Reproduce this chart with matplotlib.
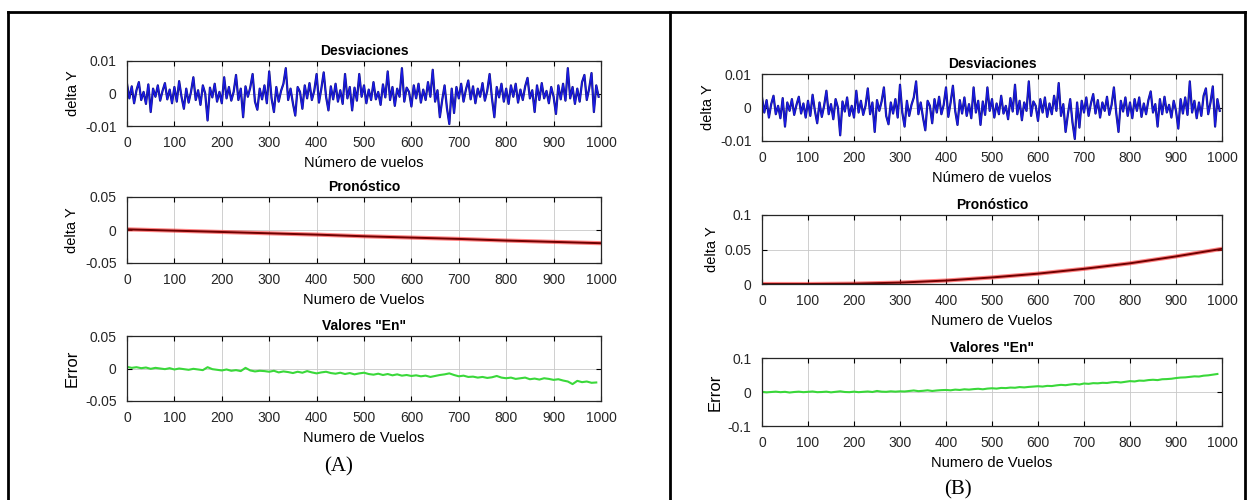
import numpy as np
import matplotlib
matplotlib.use("Agg")
import matplotlib.pyplot as plt
from matplotlib.lines import Line2D

plt.rcParams['font.family'] = ['Liberation Sans', 'DejaVu Sans']
plt.rcParams['axes.unicode_minus'] = False

# desviaciones (x1e-3), one value every 5 flights
desv = np.array([
    3.0, -1.5, 2.2, -3.0, 1.0, 3.5, -2.0, 0.5, -3.2, 2.8, -5.7, 1.5, -1.0, 2.5, -2.2, 0.8, 3.2, -1.8, 1.2, -3.0,
    2.0, -2.5, 3.8, -1.0, -4.7, 1.5, -2.8, 0.5, 5.0, -2.0, 1.0, -3.5, 2.5, 0.0, -8.3, 1.8, -1.2, 3.0, -2.5, 0.5,
    -3.0, 5.0, -1.5, 2.0, -2.2, 0.5, 5.7, -2.0, 1.5, -7.3, 2.2, -1.0, 1.8, 6.0, -2.5, -5.0, 1.5, -1.8, 2.5, -3.0,
    6.8, -1.5, -5.7, 2.0, -2.5, 0.8, 3.0, 7.8, -2.0, 1.5, -3.0, -6.8, 2.0, 0.5, -4.7, 2.5, -1.5, 3.2, -2.0, 0.8,
    6.0, -2.8, 1.5, 6.5, -1.0, -5.2, 2.2, -1.8, 3.0, -2.5, 1.0, -3.2, 6.0, -1.5, 2.0, -5.2, 1.8, -2.2, 6.0, -1.0,
    2.5, -3.0, 1.2, -2.0, 3.5, -1.8, 0.5, -3.5, 2.8, -1.2, 6.8, -2.0, 2.0, -3.8, 1.5, -1.0, 7.8, -2.5, 1.8, 0.5,
    -4.0, 2.5, -1.5, 3.0, -2.8, 1.2, -2.0, 3.5, -1.0, 7.3, -2.5, 1.0, -7.3, -2.0, 2.5, -4.5, -9.4, 1.5, -6.0, 2.0,
    -1.5, 3.0, -2.5, 1.2, 4.0, -1.8, 2.2, -3.0, 1.5, -1.0, 3.2, -2.2, 0.8, 6.0, -1.5, -7.3, 2.0, -1.2, 3.0, -2.5,
    1.5, -3.2, 2.5, -1.0, 3.0, -2.8, 1.2, -2.0, 2.2, 4.8, -1.5, 1.0, -5.7, 2.5, -2.0, 3.2, -1.5, 0.8, -3.0, 2.0,
    -1.0, -6.3, 2.5, -1.8, 3.0, -2.2, 7.8, -1.5, 2.0, -3.2, 1.5, -2.5, 3.5, 5.7, -2.0, 1.5, 6.3, -5.7, 2.5, -1.0,
]) * 1e-3
x_desv = np.arange(len(desv)) * 5

# pronostico, read every 100 flights
x_pron = [0, 100, 200, 300, 400, 500, 600, 700, 800, 900, 1000]
pron_a = [0.001, -0.001, -0.003, -0.005, -0.007, -0.0095, -0.0115, -0.0135, -0.016, -0.018, -0.020]
pron_b = [0.0, 0.0, 0.0005, 0.002, 0.005, 0.0095, 0.015, 0.022, 0.030, 0.040, 0.051]

# valores "En" (x1e-3), one value every 10 flights
en_a = np.array([
    2.5, 1.0, 2.0, 0.5, 1.5, -0.5, 1.0, 0.0, -1.0, 0.5,
    -1.5, 0.0, -1.0, -2.0, -0.5, -1.5, -2.5, 2.0, -1.0, -2.0,
    -3.0, -1.5, -3.5, -2.5, -4.0, 1.0, -3.0, -4.5, -3.5, -4.0,
    -5.0, -3.5, -6.0, -4.5, -5.5, -7.0, -5.0, -6.5, -4.0, -6.0,
    -7.5, -6.0, -5.0, -7.0, -8.0, -6.5, -8.5, -7.0, -9.0, -7.5,
    -6.5, -8.5, -9.5, -8.0, -10.0, -8.5, -10.5, -9.0, -11.0, -10.0,
    -11.5, -10.5, -12.0, -11.0, -13.0, -11.5, -10.0, -9.0, -7.5, -10.0,
    -12.0, -11.0, -13.0, -12.5, -14.0, -13.0, -14.5, -13.5, -11.5, -14.0,
    -15.0, -14.0, -16.0, -15.0, -14.0, -16.5, -15.5, -17.0, -15.0, -16.0,
    -17.5, -16.5, -18.5, -20.0, -24.0, -19.0, -21.0, -20.0, -22.0, -21.5,
]) * 1e-3
en_b = np.array([
    0.5, -1.0, 0.0, 1.0, -0.5, 0.5, -1.5, 0.0, 1.0, -0.5,
    0.5, 1.5, -0.5, 0.0, 1.0, -1.0, 0.5, 2.0, 0.0, -0.5,
    1.0, -0.5, 0.5, 1.5, 0.0, 3.0, 1.0, 0.5, 2.0, 1.0,
    2.0, 1.5, 3.0, 4.5, 2.5, 3.5, 5.0, 3.0, 4.5, 5.5,
    6.0, 5.0, 7.0, 6.0, 8.0, 7.0, 8.5, 9.5, 8.0, 10.0,
    11.0, 10.0, 12.0, 11.5, 13.0, 12.5, 14.5, 13.5, 15.0, 16.0,
    17.0, 16.0, 18.0, 17.5, 19.5, 21.0, 20.0, 22.0, 23.5, 22.0,
    25.0, 24.0, 26.0, 25.5, 27.0, 26.5, 28.5, 29.5, 28.0, 30.0,
    32.0, 31.0, 33.5, 33.0, 35.0, 36.0, 35.0, 37.5, 38.0, 39.0,
    41.0, 42.5, 43.0, 44.5, 46.0, 45.5, 48.0, 49.0, 51.0, 53.0,
]) * 1e-3
x_en = np.arange(len(en_a)) * 10

xticks = list(range(0, 1001, 100))
W, H = 1248.0, 500.0


def make_ax(fig, x0, x1, y0, y1):
    ax = fig.add_axes([x0 / W, 1 - y1 / H, (x1 - x0) / W, (y1 - y0) / H])
    ax.set_xlim(0, 1000)
    ax.set_xticks(xticks)
    ax.tick_params(direction='in', top=True, right=True, length=3.5, width=0.8,
                   labelsize=10, labelcolor='#262626', pad=7.5)
    ax.grid(True, color='#c8c8c8', lw=0.6)
    ax.set_axisbelow(True)
    for s in ax.spines.values():
        s.set_color('#262626')
        s.set_linewidth(0.9)
    return ax


def style(ax, title, xlabel, ylabel, yticks, ylabels, ysize=10.5):
    ax.set_ylim(yticks[0], yticks[-1])
    ax.set_yticks(yticks)
    ax.set_yticklabels(ylabels)
    ax.set_title(title, fontsize=10, fontweight='bold', pad=4)
    ax.set_xlabel(xlabel, fontsize=10.5, labelpad=4)
    ax.set_ylabel(ylabel, fontsize=ysize, labelpad=4)


fig = plt.figure(figsize=(12.48, 5.0), dpi=100)

panels = [
    # x0, x1, rows (y0, y1), pronostico, en, pron ticks, en ticks
    (127, 601, [(61, 126), (197, 263), (336, 401)], pron_a, en_a,
     ([-0.05, 0, 0.05], ['-0.05', '0', '0.05']), ([-0.05, 0, 0.05], ['-0.05', '0', '0.05'])),
    (762, 1222, [(74, 141), (215, 284), (358, 426)], pron_b, en_b,
     ([0, 0.05, 0.1], ['0', '0.05', '0.1']), ([-0.1, 0, 0.1], ['-0.1', '0', '0.1'])),
]

for x0, x1, rows, pron, en, pt, et in panels:
    ax = make_ax(fig, x0, x1, *rows[0])
    ax.plot(x_desv, desv, color='#14147a', lw=1.6)
    ax.plot(x_desv, desv, color='#1a1ae6', lw=0.9)
    style(ax, 'Desviaciones', 'Número de vuelos', 'delta Y', [-0.01, 0, 0.01], ['-0.01', '0', '0.01'])

    ax = make_ax(fig, x0, x1, *rows[1])
    ax.plot(x_pron, pron, color='#ff2020', lw=3.0, alpha=0.55)
    ax.plot(x_pron, pron, color='#700000', lw=1.4)
    style(ax, 'Pronóstico', 'Numero de Vuelos', 'delta Y', pt[0], pt[1])

    ax = make_ax(fig, x0, x1, *rows[2])
    ax.plot(x_en, en, color='#3ad83a', lw=1.5)
    style(ax, 'Valores "En"', 'Numero de Vuelos', 'Error', et[0], et[1], ysize=12)

# table frame
frame = dict(color='black', lw=2.0, transform=fig.transFigure)
top = 1 - 12 / H
fig.add_artist(Line2D([8 / W, 1245 / W], [top, top], **frame))
for xv in (8, 670, 1245):
    fig.add_artist(Line2D([xv / W, xv / W], [top, 0], **frame))

fig.text(339 / W, 1 - 467 / H, '(A)', ha='center', va='center', fontsize=15, family='Liberation Serif')
fig.text(958 / W, 1 - 490 / H, '(B)', ha='center', va='center', fontsize=15, family='Liberation Serif')

fig.savefig('out.png', dpi=100)
